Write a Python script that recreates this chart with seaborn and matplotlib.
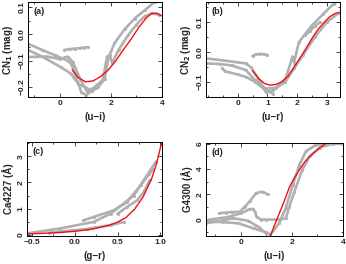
import matplotlib
matplotlib.use("Agg")
import matplotlib.pyplot as plt
from matplotlib.ticker import MultipleLocator, FixedLocator
import seaborn as sns

# ---- panel (a): CN1 vs (u-i) ----
a_fit_x = [0.48, 0.7, 1.0, 1.3, 1.6, 1.9, 2.2, 2.5, 2.8, 3.1, 3.4, 3.6, 3.8, 4.0]
a_fit_y = [-0.135, -0.163, -0.180, -0.177, -0.160, -0.135, -0.100, -0.058, -0.018, 0.026, 0.062, 0.077, 0.078, 0.068]
a_trk1_x = [-1.25, -0.7, -0.2, 0.31, 0.44, 0.6, 0.84, 1.03, 1.25, 1.5, 1.75, 1.9, 2.14, 2.54, 2.93, 3.32, 3.71, 4.0]
a_trk1_y = [-0.037, -0.06, -0.08, -0.101, -0.112, -0.15, -0.22, -0.23, -0.215, -0.2, -0.17, -0.09, -0.035, 0.018, 0.058, 0.089, 0.12, 0.13]
a_trk2_x = [-1.25, -0.6, 0.05, 0.44, 0.71, 0.97, 1.16, 1.42, 1.69, 1.85, 1.95, 2.05, 2.3, 2.67, 3.0, 3.3, 3.6, 3.9]
a_trk2_y = [-0.06, -0.09, -0.126, -0.15, -0.187, -0.2, -0.21, -0.204, -0.17, -0.085, -0.08, -0.11, -0.06, -0.005, 0.035, 0.065, 0.078, 0.072]
a_trk3_x = [-1.25, -0.5, 0.0, 0.3, 0.5, 0.8, 1.05, 1.3, 1.6]
a_trk3_y = [-0.087, -0.085, -0.095, -0.085, -0.105, -0.17, -0.215, -0.205, -0.18]
a_trk4_x = [0.18, 0.4, 0.6, 0.8, 0.95, 1.1]
a_trk4_y = [-0.06, -0.057, -0.055, -0.053, -0.051, -0.05]

# ---- panel (b): CN2 vs (u-r) ----
b_fit_x = [0.5, 0.7, 0.9, 1.1, 1.3, 1.5, 1.7, 1.9, 2.1, 2.3, 2.5, 2.7, 2.9, 3.1, 3.3, 3.45]
b_fit_y = [-0.062, -0.088, -0.105, -0.111, -0.108, -0.099, -0.08, -0.05, -0.02, 0.012, 0.045, 0.075, 0.098, 0.118, 0.130, 0.133]
b_trk1_x = [-1.07, -0.5, 0.27, 0.44, 0.7, 0.94, 1.2, 1.61, 1.85, 1.9, 2.06, 2.5, 2.89, 3.23, 3.45]
b_trk1_y = [-0.021, -0.028, -0.038, -0.05, -0.09, -0.133, -0.128, -0.09, -0.015, -0.035, 0.033, 0.089, 0.128, 0.161, 0.175]
b_trk2_x = [-1.07, -0.6, -0.2, 0.27, 0.6, 0.95, 1.3, 1.6, 1.9, 2.2, 2.6, 3.0, 3.4]
b_trk2_y = [-0.038, -0.04, -0.045, -0.06, -0.095, -0.122, -0.12, -0.1, -0.055, -0.01, 0.05, 0.1, 0.13]
b_trk3_x = [-0.52, -0.41, 0.0, 0.27, 0.6, 0.9, 1.2]
b_trk3_y = [-0.055, -0.065, -0.075, -0.083, -0.1, -0.125, -0.14]
b_trk4_x = [2.28, 2.45, 2.6, 2.78]
b_trk4_y = [0.056, 0.072, 0.087, 0.1]
b_dots_x = [0.5, 0.62, 0.75, 0.88, 1.0]
b_dots_y = [-0.013, -0.008, -0.006, -0.007, -0.01]

# ---- panel (c): Ca4227 vs (g-r) ----
c_fit_x = [-0.56, -0.4, -0.2, 0.0, 0.2, 0.4, 0.5, 0.6, 0.7, 0.8, 0.9, 0.95, 1.0, 1.02]
c_fit_y = [0.03, 0.05, 0.08, 0.13, 0.21, 0.36, 0.48, 0.66, 0.98, 1.45, 2.15, 2.65, 3.3, 3.55]
c_trk1_x = [-0.56, -0.17, 0.22, 0.42, 0.57, 0.69, 0.79, 0.89, 0.95]
c_trk1_y = [0.05, 0.24, 0.49, 0.81, 1.19, 1.5, 2.0, 2.5, 2.8]
c_trk2_x = [0.1, 0.22, 0.46, 0.61, 0.77, 0.87, 0.92]
c_trk2_y = [0.55, 0.68, 0.94, 1.25, 1.89, 2.33, 2.5]
c_trk3_x = [-0.3, 0.14, 0.42, 0.58]
c_trk3_y = [0.08, 0.22, 0.37, 0.49]
c_trk4_x = [0.5, 0.61, 0.73, 0.8, 0.88]
c_trk4_y = [0.8, 1.06, 1.32, 1.6, 2.1]

# ---- panel (d): G4300 vs (u-i) ----
d_fit_x = [1.15, 1.3, 1.5, 1.7, 1.9, 2.1, 2.3, 2.5, 2.7, 2.9, 3.1, 3.35]
d_fit_y = [-1.35, -0.55, 0.45, 1.45, 2.55, 3.3, 3.95, 4.55, 5.0, 5.35, 5.7, 6.05]
d_trk1_x = [-1.37, -0.7, -0.08, 0.5, 0.98, 1.15, 1.5, 1.76, 2.03, 2.29, 2.55, 2.94, 3.33, 4.0]
d_trk1_y = [-0.15, -0.2, -0.3, -0.7, -1.0, -1.2, -0.3, 0.9, 2.7, 4.3, 5.4, 5.9, 6.0, 6.0]
d_trk2_x = [-1.37, -0.5, 0.0, 0.33, 0.48, 0.56, 0.62, 0.8, 1.0, 1.5, 1.76, 1.9, 2.1, 2.4, 2.7, 3.1, 3.6, 4.0]
d_trk2_y = [-0.05, 0.2, 0.5, 0.8, 0.85, 0.6, 0.2, 0.0, 0.0, 0.0, 0.1, 1.0, 2.2, 3.9, 5.0, 5.7, 6.0, 6.0]
d_trk3_x = [-1.37, -0.8, -0.3, 0.3, 0.7, 1.0]
d_trk3_y = [-0.3, -0.1, 0.1, -0.1, -0.6, -1.1]
d_trk4_x = [-0.1, 0.15, 0.35, 0.6, 0.85, 1.05]
d_trk4_y = [0.5, 1.0, 1.45, 2.1, 2.2, 2.0]
d_dots_x = [-0.85, -0.6, -0.35, -0.1]
d_dots_y = [0.5, 0.55, 0.6, 0.6]

sns.set_theme(style="ticks")
plt.rcParams["font.family"] = ["Liberation Sans", "DejaVu Sans"]
plt.rcParams["font.weight"] = "bold"
plt.rcParams["mathtext.default"] = "bf"

GREY = "#b0b0b0"
RED = "#ee1111"

fig = plt.figure(figsize=(3.46, 2.64), dpi=100)


def style_axis(ax, xlim, ylim, xticks, xmin, ymaj, ymin, xlabel, ylabel, tag):
    ax.set_xlim(*xlim)
    ax.set_ylim(*ylim)
    ax.xaxis.set_major_locator(FixedLocator(xticks))
    ax.xaxis.set_minor_locator(MultipleLocator(xmin))
    ax.yaxis.set_major_locator(MultipleLocator(ymaj))
    ax.yaxis.set_minor_locator(MultipleLocator(ymin))
    ax.tick_params(which="both", direction="in", top=True, right=True,
                   labelsize=6, width=0.6, pad=2)
    ax.tick_params(axis="y", labelrotation=90, pad=1.5)
    ax.tick_params(which="major", length=3)
    ax.tick_params(which="minor", length=1.5)
    for lbl in ax.get_yticklabels():
        lbl.set_va("center")
    for s in ax.spines.values():
        s.set_linewidth(0.7)
        s.set_color("black")
    ax.set_xlabel(xlabel, fontsize=7, fontweight="bold", labelpad=4)
    ax.set_ylabel(ylabel, fontsize=7, fontweight="bold", labelpad=3)
    ax.text(0.04, 0.95, tag, transform=ax.transAxes, fontsize=6.5,
            fontweight="bold", va="top", ha="left")


def draw(ax, tracks, fit_x, fit_y):
    for tx, ty in tracks:
        sns.lineplot(x=tx, y=ty, ax=ax, color=GREY, lw=1.9, sort=False,
                     estimator=None, legend=False)
        sns.scatterplot(x=tx, y=ty, ax=ax, color=GREY, s=5, linewidth=0,
                        legend=False)
    sns.lineplot(x=fit_x, y=fit_y, ax=ax, color=RED, lw=1.0, sort=False,
                 estimator=None, legend=False)


ax_a = fig.add_axes([0.081, 0.633, 0.387, 0.359])
draw(ax_a, [(a_trk1_x, a_trk1_y), (a_trk2_x, a_trk2_y), (a_trk3_x, a_trk3_y),
            (a_trk4_x, a_trk4_y)], a_fit_x, a_fit_y)
style_axis(ax_a, (-1.25, 4.0), (-0.237, 0.12), [0, 2, 4], 1, 0.1, 0.05,
           "(u\u2212i)", "CN$_1$ (mag)", "(a)")

ax_b = fig.add_axes([0.595, 0.633, 0.388, 0.359])
draw(ax_b, [(b_trk1_x, b_trk1_y), (b_trk2_x, b_trk2_y), (b_trk3_x, b_trk3_y),
            (b_trk4_x, b_trk4_y), (b_dots_x, b_dots_y)], b_fit_x, b_fit_y)
style_axis(ax_b, (-1.07, 3.45), (-0.15, 0.167), [0, 1, 2, 3], 0.5, 0.1, 0.05,
           "(u\u2212r)", "CN$_2$ (mag)", "(b)")

ax_c = fig.add_axes([0.078, 0.106, 0.390, 0.356])
draw(ax_c, [(c_trk1_x, c_trk1_y), (c_trk2_x, c_trk2_y), (c_trk3_x, c_trk3_y),
            (c_trk4_x, c_trk4_y)], c_fit_x, c_fit_y)
style_axis(ax_c, (-0.56, 1.02), (-0.05, 3.55), [-0.5, 0, 0.5, 1], 0.25, 1, 0.5,
           "(g\u2212r)", "Ca4227 (\u00c5)", "(c)")

ax_d = fig.add_axes([0.595, 0.106, 0.396, 0.352])
draw(ax_d, [(d_trk1_x, d_trk1_y), (d_trk2_x, d_trk2_y), (d_trk3_x, d_trk3_y),
            (d_trk4_x, d_trk4_y), (d_dots_x, d_dots_y)], d_fit_x, d_fit_y)
style_axis(ax_d, (-1.37, 4.0), (-1.3, 6.05), [0, 2, 4], 1, 2, 1,
           "(u\u2212i)", "G4300 (\u00c5)", "(d)")

fig.savefig("out.png", dpi=100)
